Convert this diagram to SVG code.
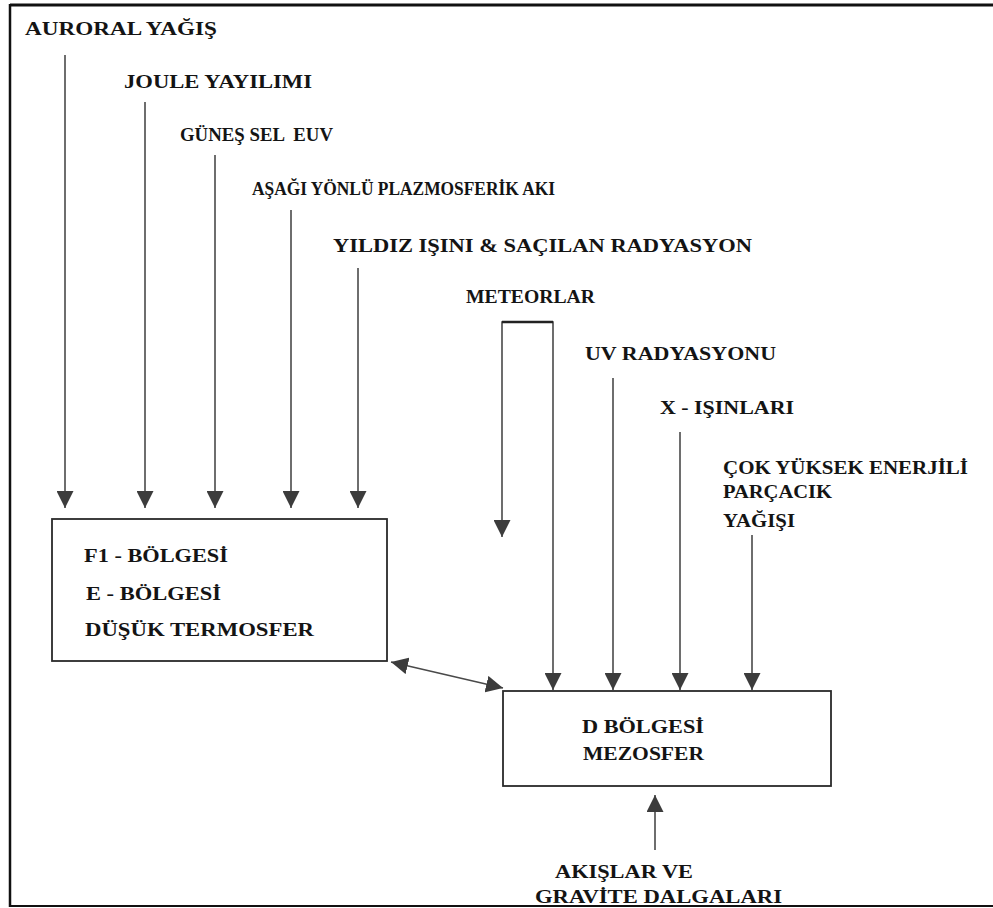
<svg xmlns="http://www.w3.org/2000/svg" width="993" height="908" viewBox="0 0 993 908">
<style>
  text { font-family: "Liberation Serif", "Times New Roman", serif; font-weight: bold; font-size: 18px; fill: #141414; }
  .ln { stroke: #4a4a4a; stroke-width: 1.6; fill: none; }
  .box { stroke: #2a2a2a; stroke-width: 1.8; fill: #ffffff; }
  .frame { stroke: #111; fill: none; }
</style>
<defs>
  <marker id="ah" markerUnits="userSpaceOnUse" markerWidth="18" markerHeight="17" viewBox="0 0 18 17" refX="17" refY="8.5" orient="auto-start-reverse">
    <path d="M0,0 L17,8.5 L0,17 z" fill="#3c3c3c"/>
  </marker>
</defs>
<rect width="993" height="908" fill="#ffffff"/>
<g id="frame">
  <line class="frame" x1="10" y1="5" x2="993" y2="5" stroke-width="3"/>
  <line class="frame" x1="10" y1="4" x2="10" y2="907" stroke-width="2.5"/>
  <line class="frame" x1="10" y1="906" x2="993" y2="906" stroke-width="2"/>
</g>
<g id="connectors">
  <line class="ln" x1="65" y1="55" x2="65" y2="508" marker-end="url(#ah)"/>
  <line class="ln" x1="145" y1="102" x2="145" y2="508" marker-end="url(#ah)"/>
  <line class="ln" x1="215" y1="155" x2="215" y2="508" marker-end="url(#ah)"/>
  <line class="ln" x1="291" y1="210" x2="291" y2="508" marker-end="url(#ah)"/>
  <line class="ln" x1="358" y1="268" x2="358" y2="508" marker-end="url(#ah)"/>
  <path class="ln" d="M502,537 V322 H553 V690" marker-start="url(#ah)" marker-end="url(#ah)"/>
  <line x1="502" y1="322" x2="553" y2="322" stroke="#222" stroke-width="2.5"/>
  <line class="ln" x1="613" y1="378" x2="613" y2="690" marker-end="url(#ah)"/>
  <line class="ln" x1="680" y1="432" x2="680" y2="690" marker-end="url(#ah)"/>
  <line class="ln" x1="752" y1="535" x2="752" y2="690" marker-end="url(#ah)"/>
  <line class="ln" x1="391" y1="662" x2="503" y2="688" marker-start="url(#ah)" marker-end="url(#ah)"/>
  <line class="ln" x1="655" y1="850" x2="655" y2="795" marker-end="url(#ah)"/>
</g>
<g id="src-auroral"><text x="25" y="35" textLength="192" lengthAdjust="spacingAndGlyphs">AURORAL YAĞIŞ</text></g>
<g id="src-joule"><text x="124" y="88" textLength="188" lengthAdjust="spacingAndGlyphs">JOULE YAYILIMI</text></g>
<g id="src-euv"><text x="180" y="141" xml:space="preserve" textLength="153" lengthAdjust="spacingAndGlyphs">GÜNEŞ SEL  EUV</text></g>
<g id="src-plazmo"><text x="252" y="195" textLength="303" lengthAdjust="spacingAndGlyphs">AŞAĞI YÖNLÜ PLAZMOSFERİK AKI</text></g>
<g id="src-yildiz"><text x="333" y="252" textLength="419" lengthAdjust="spacingAndGlyphs">YILDIZ IŞINI &amp; SAÇILAN RADYASYON</text></g>
<g id="src-meteor"><text x="466" y="303" textLength="129" lengthAdjust="spacingAndGlyphs">METEORLAR</text></g>
<g id="src-uv"><text x="585" y="360" textLength="191" lengthAdjust="spacingAndGlyphs">UV RADYASYONU</text></g>
<g id="src-x"><text x="660" y="414" textLength="134" lengthAdjust="spacingAndGlyphs">X - IŞINLARI</text></g>
<g id="src-cok">
  <text x="723" y="474" textLength="245" lengthAdjust="spacingAndGlyphs">ÇOK YÜKSEK ENERJİLİ</text>
  <text x="723" y="498" textLength="109" lengthAdjust="spacingAndGlyphs">PARÇACIK</text>
  <text x="723" y="527" textLength="72" lengthAdjust="spacingAndGlyphs">YAĞIŞI</text>
</g>
<g id="box-f1">
  <rect class="box" x="52" y="519" width="335" height="142"/>
  <text x="84" y="562" textLength="144" lengthAdjust="spacingAndGlyphs">F1 - BÖLGESİ</text>
  <text x="86" y="600" textLength="135" lengthAdjust="spacingAndGlyphs">E - BÖLGESİ</text>
  <text x="85" y="636" textLength="229" lengthAdjust="spacingAndGlyphs">DÜŞÜK TERMOSFER</text>
</g>
<g id="box-d">
  <rect class="box" x="503" y="691" width="328" height="95"/>
  <text x="582" y="733" textLength="122" lengthAdjust="spacingAndGlyphs">D BÖLGESİ</text>
  <text x="583" y="760" textLength="121" lengthAdjust="spacingAndGlyphs">MEZOSFER</text>
</g>
<g id="src-akis">
  <text x="555" y="878" textLength="138" lengthAdjust="spacingAndGlyphs">AKIŞLAR VE</text>
  <text x="535" y="903" textLength="247" lengthAdjust="spacingAndGlyphs">GRAVİTE DALGALARI</text>
</g>
</svg>
